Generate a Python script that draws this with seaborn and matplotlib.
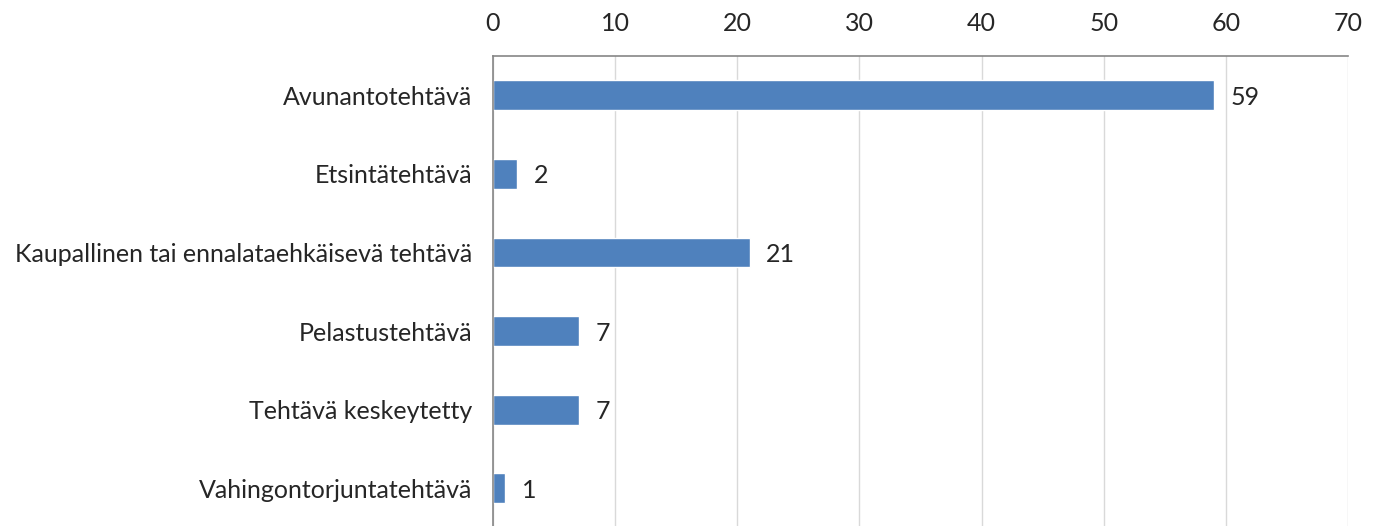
import matplotlib
matplotlib.use("Agg")
import matplotlib.pyplot as plt
import seaborn as sns
import pandas as pd

categories = ["Avunantotehtävä", "Etsintätehtävä", "Kaupallinen tai ennalataehkäisevä tehtävä",
              "Pelastustehtävä", "Tehtävä keskeytetty", "Vahingontorjuntatehtävä"]
values = [59, 2, 21, 7, 7, 1]
xticks = [0, 10, 20, 30, 40, 50, 60, 70]

sns.set_theme(style="white")
plt.rcParams['font.family'] = ['Lato', 'DejaVu Sans']

df = pd.DataFrame({"cat": categories, "val": values})

fig = plt.figure(figsize=(13.78, 5.26), dpi=100)
ax = fig.add_axes([493/1378, -0.003, (1348-493)/1378, 1 - 56/526 + 0.003])
sns.barplot(data=df, x="val", y="cat", color="#4F81BD", width=0.38, ax=ax, saturation=1)

ax.set_xlim(0, 70)
ax.set_ylim(len(categories) - 0.5, -0.5)
ax.set_xticks(xticks)
ax.xaxis.tick_top()
ax.tick_params(axis='x', length=0, pad=15, labelsize=18, colors="#262626")
ax.tick_params(axis='y', length=0, pad=15, labelsize=18, colors="#262626")
ax.set_xlabel("")
ax.set_ylabel("")
ax.grid(axis='x', color="#D9D9D9", linewidth=1)
ax.set_axisbelow(True)
for s in ["bottom", "right"]:
    ax.spines[s].set_visible(False)
for s in ["top", "left"]:
    ax.spines[s].set_color("#868686")
    ax.spines[s].set_linewidth(1.2)

for c in ax.containers:
    texts = ax.bar_label(c, labels=[str(v) for v in values], padding=12, fontsize=18, color="#262626")
    for t in texts:
        t.set_va("center_baseline")

fig.savefig("out.png", dpi=100)
